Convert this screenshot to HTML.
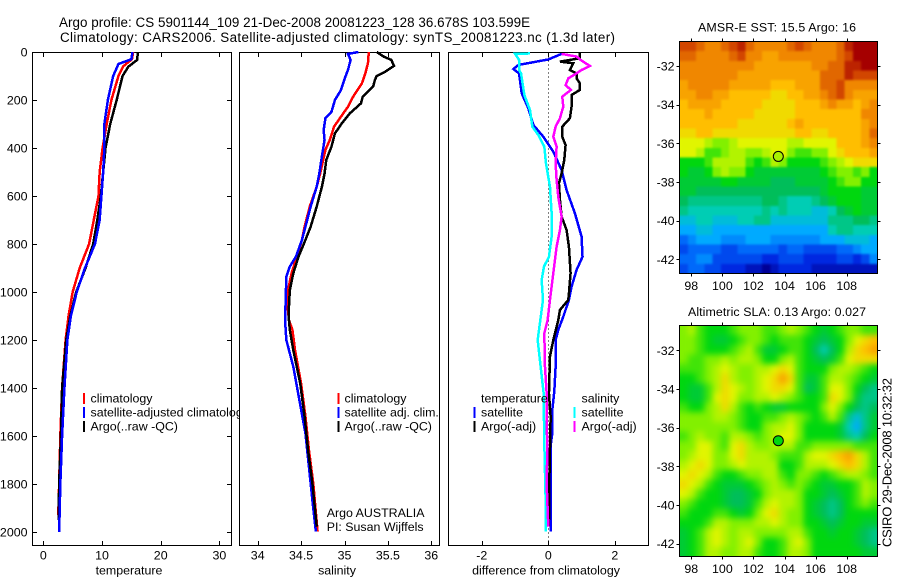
<!DOCTYPE html>
<html lang="en">
<head>
<meta charset="utf-8">
<title>Argo profile 5901144</title>
<style>
html,body{margin:0;padding:0;background:#fff;}
svg{display:block;}
text{font-family:"Liberation Sans",sans-serif;font-size:12.4px;fill:#000;}
</style>
</head>
<body>
<svg id="fig" width="900" height="580" viewBox="0 0 900 580" xmlns="http://www.w3.org/2000/svg">
  <defs>
    <clipPath id="leftClip"><rect x="0" y="0" width="239" height="580"/></clipPath>
    <clipPath id="sstClip"><rect x="679.5" y="41.5" width="198" height="232"/></clipPath>
    <clipPath id="slaClip"><rect x="679.5" y="325.5" width="198" height="231"/></clipPath>
    <filter id="sstSmooth" x="-5%" y="-5%" width="110%" height="110%" color-interpolation-filters="sRGB">
      <feGaussianBlur stdDeviation="1.1"/>
      <feComponentTransfer><feFuncA type="linear" slope="20"/></feComponentTransfer>
    </filter>
    <filter id="slaSmooth" x="-5%" y="-5%" width="110%" height="110%" color-interpolation-filters="sRGB">
      <feGaussianBlur stdDeviation="3.2"/>
      <feComponentTransfer><feFuncA type="linear" slope="20"/></feComponentTransfer>
    </filter>
  </defs>
  <rect x="0" y="0" width="900" height="580" fill="#fff"/>
  <text x="59" y="27" textLength="471" style="font-size:13.4px">Argo profile: CS 5901144_109 21-Dec-2008 20081223_128 36.678S 103.599E</text>
  <text x="60" y="42" textLength="555" style="font-size:13.4px">Climatology: CARS2006. Satellite-adjusted climatology: synTS_20081223.nc (1.3d later)</text>
  <text x="698" y="31.5" textLength="158">AMSR-E SST: 15.5 Argo: 16</text>
  <text x="688" y="316" textLength="178">Altimetric SLA: 0.13 Argo: 0.027</text>
  <text transform="translate(891.5,547) rotate(-90)" textLength="169" style="font-size:13px">CSIRO 29-Dec-2008 10:32:32</text>
  <text x="326.7" y="517">Argo AUSTRALIA</text>
  <text x="326.7" y="531">PI: Susan Wijffels</text>
</svg>
<script>
// ---------- temperature panel data ----------
var tempTicks = [0, 10, 20, 30];
var depthTicks = [0, 200, 400, 600, 800, 1000, 1200, 1400, 1600, 1800, 2000];
var climTempDepth = [0,30,60,100,200,300,400,500,600,700,800,900,1000,1100,1200,1400,1600,1800,1930];
var climTempValue = [15.3,15.1,13.6,12.8,11.6,10.8,10.1,9.6,9.4,8.6,7.8,6.2,5.0,4.3,3.8,3.2,2.9,2.7,2.55];
var argoTempDepth = [0,33,61,100,200,300,400,500,600,700,800,900,1000,1100,1200,1400,1600,1800,1950];
var argoTempValue = [16.1,16.0,14.5,13.5,12.5,11.4,10.6,10.2,9.8,9.2,8.5,7.2,5.6,4.6,3.9,3.2,3.0,2.7,2.6];
var satTempDepth = [0,30,50,100,200,300,400,500,600,700,800,900,1000,1100,1200,1400,1600,1800,2000];
var satTempValue = [15.2,15,12.8,11.9,11,10.4,10.4,10.2,9.9,9.6,8.8,7.1,5.7,4.7,4.1,3.6,3.2,2.9,2.7];

// ---------- salinity panel data ----------
var salTicks = [34, 34.5, 35, 35.5, 36];
var salTickLabels = ["34", "34.5", "35", "35.5", "36"];
var climSalDepth = [0,47,89,131,186,228,269,311,367,408,506,561,644,728,783,853,922,992,1061,1117,1158,1242,1381,1519,1658,1797,1998];
var climSalValue = [35.28,35.27,35.24,35.2,35.1,35.04,34.96,34.88,34.83,34.78,34.72,34.68,34.6,34.54,34.51,34.45,34.39,34.35,34.345,34.36,34.4,34.43,34.5,34.55,34.59,34.64,34.69];
var satSalDepth = [0,8,33,75,103,158,200,249,276,325,367,422,506,561,644,728,783,853,894,936,1061,1117,1200,1311,1450,1589,1728,1867,1998];
var satSalValue = [35.16,35.04,35.07,35.04,35.01,34.96,34.89,34.85,34.78,34.76,34.77,34.745,34.71,34.68,34.61,34.55,34.51,34.44,34.37,34.33,34.32,34.315,34.33,34.41,34.48,34.55,34.59,34.63,34.67];
var argoSalDepth = [0,19,33,58,82,100,117,144,165,186,214,256,297,339,394,450,506,561,644,728,783,853,922,992,1061,1117,1158,1242,1381,1519,1658,1797,1978];
var argoSalValue = [35.37,35.45,35.54,35.57,35.47,35.37,35.35,35.33,35.27,35.21,35.19,35.06,34.97,34.89,34.85,34.79,34.77,34.74,34.68,34.61,34.55,34.47,34.41,34.37,34.36,34.36,34.37,34.41,34.49,34.54,34.58,34.63,34.68];

// ---------- difference panel data ----------
var diffTicks = [-2, 0, 2];
var satDtDepth = [8,31,54,71,89,172,235,304,353,415,492,575,672,769,853,908,978,1033,1103,1158,1200,1311,1415,1492,1589,1630,1728,1867,1998];
var satDtValue = [0.4,0,-0.9,-1.05,-0.88,-0.8,-0.6,-0.45,-0.15,0.15,0.4,0.55,0.8,1.0,1.03,0.85,0.7,0.62,0.45,0.3,0.22,0.22,0.18,0.12,0.12,0.08,0.08,0.07,0.07];
var argoDtDepth = [0,26,40,47,75,89,110,131,158,179,228,276,311,353,388,450,506,547,617,686,742,811,922,1006,1033,1075,1117,1200,1269,1422,1519,1658,1797,1978];
var argoDtValue = [0.95,0.95,0.35,0.75,0.65,0.85,0.85,0.95,0.95,0.7,0.7,0.65,0.42,0.42,0.52,0.48,0.4,0.32,0.35,0.4,0.55,0.62,0.67,0.62,0.6,0.35,0.3,0.15,0.05,0.02,0.07,0.05,0.03,0.02];
var satDsDepth = [6,8,33,75,89,179,242,311,346,394,464,561,672,769,853,894,950,1033,1117,1200,1311,1422,1630,1867,1998];
var satDsValue = [-0.55,-1,-0.88,-0.88,-0.82,-0.72,-0.55,-0.48,-0.3,-0.12,-0.07,0.05,0.1,0.1,0.02,-0.13,-0.2,-0.16,-0.24,-0.32,-0.23,-0.14,-0.12,-0.08,-0.08];
var argoDsDepth = [8,19,36,58,75,89,110,138,158,186,228,276,311,353,394,464,533,603,686,742,811,922,1033,1117,1172,1311,1422,1519,1658,1797,1978];
var argoDsValue = [0.4,0.85,1,1.25,1,0.85,0.6,0.52,0.68,0.42,0.45,0.35,0.22,0.15,0.25,0.22,0.25,0.3,0.4,0.35,0.25,0.15,0.05,-0.02,-0.12,-0.1,-0.05,-0.05,-0.03,-0.05,0];

// ---------- map data (colour-scale level per cell, north to south, west to east) ----------
var lonTicks = [98, 100, 102, 104, 106, 108];
var latTicks = [-32, -34, -36, -38, -40, -42];
var floatLon = 103.599;
var floatLat = -36.678;
var sstFloatLevel = 7.4;
var slaFloatLevel = 6;
var sstRows = [
[11,11,10.5,10,10,10.5,11,11.5,10.5,10,10,10,10,10.5,11,10.5,10,10,10,10.5,11.5,12,12,12],
[10.5,10.5,10,10,10,10,10.5,11,10,10,9.5,9.5,10,10,10,10,10,10,10,10.5,11,12,12,12],
[10,10,10,10,10,10,10,10,10,9.5,9.5,9.5,9.5,9.5,9.5,9.5,10,10,10.5,10.5,11.5,11.5,12,12],
[10,10,10,10,10,10,10,9.5,9.5,9.5,9.5,9.5,9.5,9.5,9.5,9.5,9.5,10.5,10.5,10.5,11.5,11,11,11],
[9.5,10,10,10,10,10,9.5,9.5,9.5,9.5,9.5,9,9,9,9.5,9.5,9.5,10.5,10.5,11,10,10,10,10],
[9.5,9.5,10,10,9.5,9.5,9,9,9,9,9,8.5,8.5,9,9,9.5,9.5,10,10.5,11,10,9.5,9.5,9.5],
[9,9.5,9.5,9.5,9.5,9,9,9,9,9,8.5,8.5,8.5,8.5,9,9,9,9.5,10,9.5,9.5,9,9.5,10],
[9,9,9,9.5,9,9,9,9,9,8.5,8.5,8.5,8.5,8.5,9,9,9,9,9,9,9,9,10,10],
[9,9,9,9,9,9,9,8.5,8.5,8.5,8.5,8.5,8.5,9,9.5,9,9,9,9,9,9,9,9.5,10],
[8.5,8.5,9,9,8.5,8.5,8.5,8.5,8.5,8.5,8.5,8.5,8.5,8.5,9,9,8.5,8.5,9,9,9,9,9.5,10.5],
[8,8,8,7.5,7,7,7.5,8,8,8,8,8,8,7.5,7.5,8,8,8,8,9,9,9,9.5,10],
[8,8,7.5,6.5,6.5,7,7.5,7.5,7,7,7.5,8,8,7,6.5,6.5,7,7,8,8.5,9,9,9,9.5],
[6,6,6,6.5,7.5,7.5,7.5,7.5,6.5,6,6.5,7.5,7,6,6,6,6,6.5,7,7.5,8,8.5,8.5,8.5],
[6,5.5,5.5,6,7,7.5,7,7,6,5.5,5.5,5.5,5.5,5.5,5.5,5.5,5.5,6,6.5,7,7,6.5,7,6],
[5.5,5.5,5.5,5.5,5.5,6,6,5.5,5.5,5.5,5.5,5,5,5,5.5,5.5,5.5,5.5,6,6.5,7,7,6,6],
[5.5,5.5,5,5,5,5,5,5,5,5,5,5,5,5,5,5,5,5.5,6,6,6,6,5.5,5.5],
[5,4.5,4.5,4.5,4.5,4.5,4.5,4.5,4.5,4.5,5,5,4.5,4,4,4,4.5,5,5.5,6,6,6,5.5,5.5],
[4.5,4,4,4,4,4,4,4,4,4,4.5,4,4.5,4,4,4,3.5,3.5,4,5,5.5,6,5.5,5.5],
[3.5,3.5,4,4,3.5,3.5,3.5,4,4,4.5,4.5,3.5,3.5,3.5,3.5,3.5,3.5,3.5,4.5,4.5,4.5,5,5,4.5],
[3,3,3.5,3.5,3,3,3,3,3,3,3,3,3,3,3,3,3,3,4,4.5,4.5,4,4,4],
[2,2.5,3,3,3,2.5,2.5,2.5,3,3,3,2.5,2.5,2.5,2.5,2.5,2.5,3,3,3,3.5,3.5,3.5,3],
[1.5,2,2,2,2,1.5,1.5,2,2,2,2,2,1.5,2,2,1.5,1.5,1.5,1.5,2,2,2.5,3,3],
[2,2,2.5,2.5,1.5,1.5,1.5,1.5,1.5,1.5,1,1,1.5,1.5,1.5,1,1,1,1,1.5,1.5,1,1.5,2.5],
[1.5,2,2,1.5,1.5,1,1,1,0.5,0.5,0,0.5,1,1,1,1,0.5,0.5,0.5,0.5,0.5,0.5,0.5,0.5]
];
var slaRows = [
[7,7.5,6.5,6,6,6,6.5,7,7,7,6.5,6.5,7,7.5,7,6.5,6,5.5,6,6.5,7,7,6.5,6.5],
[7,7,6.5,6,5.5,5.5,6,6.5,7,7,6.5,6,6.5,6.5,6.5,6,5.5,5,5.5,6,7,8,8.5,9],
[7,7,6.5,6,6,6,6.5,7,7.5,6.5,5.5,5.5,6,6.5,6.5,6,5,4,5,6,7.5,8.5,9,9.5],
[7,6.5,6.5,7,7,7.5,7,7.5,7.5,7,6,6,7,7.5,6.5,6,5.5,5,5.5,6.5,8,8.5,8.5,8.5],
[6.5,6.5,6.5,7,7.5,8,7.5,7,7,7.5,7.5,8,8.5,8,6.5,6,6,6,7,7.5,7.5,7,6.5,6],
[6,6,6.5,7,7.5,8.5,7.5,7,7,7.5,8,8.5,9.5,8.5,6.5,5.5,5.5,6.5,7.5,7.5,7,6.5,6,5.5],
[6,5.5,5.5,6.5,7.5,8.5,8,7.5,7,7.5,8,8.5,8.5,8,6.5,5,5.5,6.5,8,8,7,6,5,4.5],
[6,5.5,5.5,6.5,8,8.5,8,7,7,7.5,7.5,8,7.5,7,6.5,6,6,6.5,8.5,8,7,5.5,4.5,4.5],
[6.5,6,6,7,7.5,8.5,7.5,6.5,6,6.5,6,5.5,5.5,6,6,6,6,7,8,7,6,5,4.5,5],
[7,7,7,7,7.5,7.5,7,6.5,6,6,6.5,6.5,7,7.5,7,6.5,6,6.5,7.5,6.5,4.5,3.5,4.5,5.5],
[7,7,7,7,7,7,7,6.5,6,6,7,7.5,7.5,8,7,6,6,6,6,5.5,4,3,4.5,5.5],
[6.5,7,7.5,7,7,6.5,7.5,7.5,7,6.5,7,7.5,8,8,7,6,6,6,6,5.5,4.5,4,5,6],
[7,7,8,8,7,6.5,8,8.5,7.5,7,7,7.5,7.5,7.5,6.5,6.5,7,7,7,7,7,6.5,6.5,6.5],
[7,7.5,8,8,7,7,8,8.5,7.5,7.5,7.5,7,6.5,6.5,6.5,7.5,8,8,8.5,9,9.5,8.5,7.5,6.5],
[7.5,8,8.5,8,7,7,7.5,8,7.5,7.5,7.5,7.5,6,6,6.5,7.5,7.5,7.5,8,8.5,9,8.5,7.5,6.5],
[8,8.5,8,7.5,6.5,6,6,6.5,7,7,7.5,7.5,6.5,6,7,7,6.5,6,6.5,7,7.5,7.5,7,6.5],
[8.5,8,7.5,6.5,6,5.5,5.5,5.5,6,6.5,7,7.5,7,6.5,7,6.5,6,5.5,5.5,6,6,6.5,7.5,7],
[8,7.5,6.5,6,6,5.5,5,5,5.5,6,7,7.5,7.5,7.5,7,6,6,5.5,5,5.5,6,6.5,7.5,7],
[7,6.5,6,6,6,5.5,5,5,5.5,6.5,7.5,8,7.5,7.5,7,6,5.5,5,4.5,5,6,6.5,7,6.5],
[6.5,6,6,6,6.5,6.5,6,5.5,6,7,8,8.5,7.5,7,7,6,5.5,5,4.5,5,6,6,6,6],
[6,6,6,6.5,7.5,7.5,7,7,7,7.5,7.5,8,7.5,7,7,6,6,5.5,5,5.5,6,6,5.5,5.5],
[5.5,6,6.5,7.5,8,7.5,7,7.5,7.5,7,7,7,7,7.5,7.5,6.5,6,6,5.5,6,6,5.5,5,4.5],
[5.5,6,6.5,7.5,8,7.5,7,7.5,8,7,6,6,6.5,7.5,8,7,6,6,6,6,6,5.5,5,4.5],
[5.5,6,6.5,7.5,7.5,7,7,7.5,7.5,6.5,6,6,6.5,7.5,7.5,7,6,6,6,6,6,6,5.5,5.5]
];

// ---------- drawing ----------
var NS = 'http://www.w3.org/2000/svg';
var fig = document.getElementById('fig');
var palette = [[0,0,150],[0,40,225],[0,105,250],[0,170,255],[0,205,180],[0,190,90],[0,215,15],[130,240,0],[225,245,0],[255,190,0],[240,135,0],[210,70,0],[165,0,0]];

function levelColor(v) {
  var c = Math.max(0, Math.min(palette.length - 1, v));
  var i = Math.min(palette.length - 2, Math.floor(c));
  var f = c - i;
  var p = palette[i], q = palette[i + 1];
  return 'rgb(' + Math.round(p[0] + (q[0] - p[0]) * f) + ',' + Math.round(p[1] + (q[1] - p[1]) * f) + ',' + Math.round(p[2] + (q[2] - p[2]) * f) + ')';
}
function yDepth(d) { return 52 + 0.24 * d; }
function xTemp(v) { return 43.3 + 5.87 * v; }
function xSal(v) { return 257.7 + 86.8 * (v - 34); }
function xDiff(v) { return 548.3 + 33.25 * v; }

function addLine(x1, y1, x2, y2, name) {
  var el = document.createElementNS(NS, 'line');
  el.setAttribute('x1', x1);
  el.setAttribute('y1', y1);
  el.setAttribute('x2', x2);
  el.setAttribute('y2', y2);
  el.setAttribute('stroke', '#000');
  el.setAttribute('stroke-width', 1);
  el.setAttribute('shape-rendering', 'crispEdges');
  
  
  fig.appendChild(el);
  return el;
}
function addText(x, y, str, anchor, name) {
  var el = document.createElementNS(NS, 'text');
  el.setAttribute('x', x);
  el.setAttribute('y', y);
  el.setAttribute('text-anchor', anchor);
  el.textContent = str;
  
  
  fig.appendChild(el);
  return el;
}
function addBox(x, y, w, h, name) {
  var el = document.createElementNS(NS, 'rect');
  el.setAttribute('x', x);
  el.setAttribute('y', y);
  el.setAttribute('width', w);
  el.setAttribute('height', h);
  el.setAttribute('fill', 'none');
  el.setAttribute('stroke', '#000');
  el.setAttribute('stroke-width', 1);
  el.setAttribute('shape-rendering', 'crispEdges');
  
  
  fig.appendChild(el);
}
function addSeries(depths, values, xFn, color, name) {
  var pts = [];
  for (var i = 0; i < depths.length; i++) {
    pts.push(xFn(values[i]).toFixed(2) + ',' + yDepth(depths[i]).toFixed(2));
  }
  var el = document.createElementNS(NS, 'polyline');
  el.setAttribute('points', pts.join(' '));
  el.setAttribute('fill', 'none');
  el.setAttribute('stroke', color);
  el.setAttribute('stroke-width', 2.5);
  el.setAttribute('shape-rendering', 'crispEdges');
  
  
  fig.appendChild(el);
}
function addLegendBar(x, y, color, name) {
  var el = document.createElementNS(NS, 'rect');
  el.setAttribute('x', x);
  el.setAttribute('y', y);
  el.setAttribute('width', 2);
  el.setAttribute('height', 11);
  el.setAttribute('fill', color);
  
  
  fig.appendChild(el);
}

// profile panels: frame and ticks
function profileFrame(left, right, ticks, labels, xFn, xTitle, titleX, prefix) {
  addBox(left, 52.5, right - left, 493, prefix + '-axes-frame');
  ticks.forEach(function (t, i) {
    var x = Math.round(xFn(t)) + 0.5;
    addLine(x, 52.5, x, 57, prefix + '-top-tick');
    addLine(x, 541, x, 545.5, prefix + '-bottom-tick');
    addText(xFn(t), 559.5, labels[i], 'middle', prefix + '-x-tick-label');
  });
  addText(titleX, 574.5, xTitle, 'middle', prefix + '-x-axis-title');
}
profileFrame(32.5, 231.5, tempTicks, tempTicks.map(String), xTemp, 'temperature', 129, 'temperature');
profileFrame(239.5, 439.5, salTicks, salTickLabels, xSal, 'salinity', 337, 'salinity');
profileFrame(448.5, 648.5, diffTicks, diffTicks.map(String), xDiff, 'difference from climatology', 546, 'difference');

depthTicks.forEach(function (d) {
  var y = Math.round(yDepth(d)) + 0.5;
  addLine(32.5, y, 37, y, 'depth-left-tick');
  addLine(227, y, 231.5, y, 'depth-right-tick');
  addText(27.5, yDepth(d) + 4.5, String(d), 'end', 'depth-tick-label');
});

// zero line in the difference panel
var zeroLine = addLine(xDiff(0), 52.5, xDiff(0), 545, 'difference-zero-line');
zeroLine.setAttribute('stroke-dasharray', '1 3');

// series
addSeries(climTempDepth, climTempValue, xTemp, '#f00', 'temperature-climatology-line');
addSeries(argoTempDepth, argoTempValue, xTemp, '#000', 'temperature-argo-line');
addSeries(satTempDepth, satTempValue, xTemp, '#00f', 'temperature-satellite-line');

addSeries(climSalDepth, climSalValue, xSal, '#f00', 'salinity-climatology-line');
addSeries(satSalDepth, satSalValue, xSal, '#00f', 'salinity-satellite-line');
addSeries(argoSalDepth, argoSalValue, xSal, '#000', 'salinity-argo-line');

addSeries(satDtDepth, satDtValue, xDiff, '#00f', 'temperature-satellite-difference-line');
addSeries(argoDtDepth, argoDtValue, xDiff, '#000', 'temperature-argo-difference-line');
addSeries(satDsDepth, satDsValue, xDiff, '#0ff', 'salinity-satellite-difference-line');
addSeries(argoDsDepth, argoDsValue, xDiff, '#f0f', 'salinity-argo-difference-line');

// legends
addLegendBar(83, 393, '#f00', 'legend-swatch-climatology');
addLegendBar(83, 407, '#00f', 'legend-swatch-satellite');
addLegendBar(83, 421, '#000', 'legend-swatch-argo');
addText(90.5, 402.5, 'climatology', 'start', 'legend-entry-climatology');
var clippedLegend = addText(90.5, 416.5, 'satellite-adjusted climatology', 'start', 'legend-entry-satellite');
clippedLegend.setAttribute('clip-path', 'url(#leftClip)');
addText(90.5, 430.5, 'Argo(..raw -QC)', 'start', 'legend-entry-argo');

addLegendBar(337.5, 393, '#f00', 'legend-swatch-climatology');
addLegendBar(337.5, 407, '#00f', 'legend-swatch-satellite');
addLegendBar(337.5, 421, '#000', 'legend-swatch-argo');
addText(344.5, 402.5, 'climatology', 'start', 'legend-entry-climatology');
addText(344.5, 416.5, 'satellite adj. clim.', 'start', 'legend-entry-satellite');
addText(344.5, 430.5, 'Argo(..raw -QC)', 'start', 'legend-entry-argo');

addText(481, 402.5, 'temperature', 'start', 'legend-heading-temperature');
addLegendBar(473.5, 407, '#00f', 'legend-swatch-temperature-satellite');
addLegendBar(473.5, 421, '#000', 'legend-swatch-temperature-argo');
addText(481, 416.5, 'satellite', 'start', 'legend-entry-temperature-satellite');
addText(481, 430.5, 'Argo(-adj)', 'start', 'legend-entry-temperature-argo');
addText(581.5, 402.5, 'salinity', 'start', 'legend-heading-salinity');
addLegendBar(573.5, 407, '#0ff', 'legend-swatch-salinity-satellite');
addLegendBar(573.5, 421, '#f0f', 'legend-swatch-salinity-argo');
addText(581.5, 416.5, 'satellite', 'start', 'legend-entry-salinity-satellite');
addText(581.5, 430.5, 'Argo(-adj)', 'start', 'legend-entry-salinity-argo');

// maps
function drawMap(rows, lat32Y, top, bottom, floatLevel, prefix, clipId, filterId) {
  var left = 679.5, right = 877.5;
  function xLon(lon) { return 691.3 + 15.54 * (lon - 98); }
  function yLat(lat) { return lat32Y + 19.33 * (-32 - lat); }
  var lonStart = 98 + (left - 691.3) / 15.54;
  var lonEnd = 98 + (right - 691.3) / 15.54;
  var latStart = -32 + (lat32Y - top) / 19.33;
  var latEnd = -32 - (bottom - lat32Y) / 19.33;
  var dLon = (lonEnd - lonStart) / rows[0].length;
  var dLat = (latStart - latEnd) / rows.length;
  var clipGroup = document.createElementNS(NS, 'g');
  clipGroup.setAttribute('clip-path', 'url(#' + clipId + ')');
  
  
  fig.appendChild(clipGroup);
  var cellGroup = document.createElementNS(NS, 'g');
  cellGroup.setAttribute('filter', 'url(#' + filterId + ')');
  
  
  clipGroup.appendChild(cellGroup);
  rows.forEach(function (row, r) {
    row.forEach(function (v, c) {
      var cell = document.createElementNS(NS, 'rect');
      var x0 = xLon(lonStart + c * dLon), x1 = xLon(lonStart + (c + 1) * dLon);
      var y0 = yLat(latStart - r * dLat), y1 = yLat(latStart - (r + 1) * dLat);
      cell.setAttribute('x', x0.toFixed(2));
      cell.setAttribute('y', y0.toFixed(2));
      cell.setAttribute('width', (x1 - x0).toFixed(2));
      cell.setAttribute('height', (y1 - y0).toFixed(2));
      cell.setAttribute('fill', levelColor(v));
      cell.setAttribute('shape-rendering', 'crispEdges');
      
      
      cellGroup.appendChild(cell);
    });
  });
  addBox(left, top, right - left, bottom - top, prefix + '-map-frame');
  lonTicks.forEach(function (lon) {
    var x = Math.round(xLon(lon)) + 0.5;
    addLine(x, top - 3, x, top, prefix + '-map-top-tick');
    addLine(x, bottom, x, bottom + 3, prefix + '-map-bottom-tick');
    addText(xLon(lon), bottom + 16.5, String(lon), 'middle', prefix + '-map-lon-label');
  });
  latTicks.forEach(function (lat) {
    var y = Math.round(yLat(lat)) + 0.5;
    addLine(left - 3, y, left, y, prefix + '-map-left-tick');
    addLine(right, y, right + 3, y, prefix + '-map-right-tick');
    addText(674.5, yLat(lat) + 4.5, String(lat), 'end', prefix + '-map-lat-label');
  });
  var marker = document.createElementNS(NS, 'circle');
  marker.setAttribute('cx', xLon(floatLon).toFixed(2));
  marker.setAttribute('cy', yLat(floatLat).toFixed(2));
  marker.setAttribute('r', 5);
  marker.setAttribute('fill', levelColor(floatLevel));
  marker.setAttribute('stroke', '#000');
  marker.setAttribute('stroke-width', 1);
  
  
  fig.appendChild(marker);
}
drawMap(sstRows, 66, 41.5, 273.5, sstFloatLevel, 'sst', 'sstClip', 'sstSmooth');
drawMap(slaRows, 350.3, 325.5, 556.5, slaFloatLevel, 'sla', 'slaClip', 'slaSmooth');
</script>
</body>
</html>
